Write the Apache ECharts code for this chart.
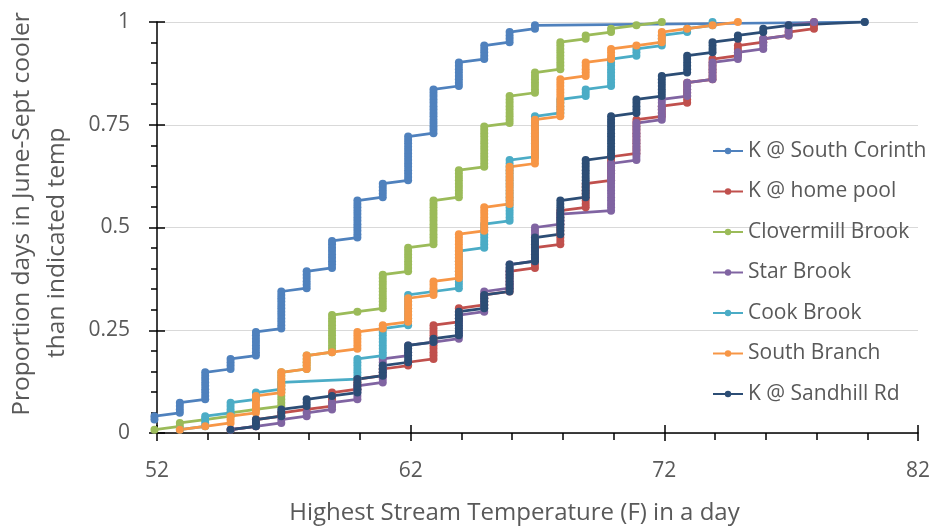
<!DOCTYPE html>
<html><head><meta charset="utf-8">
<script src="https://cdn.jsdelivr.net/npm/echarts@6/dist/echarts.min.js"></script>
<style>html,body{margin:0;padding:0;background:#fff}#c{width:934px;height:527px}</style>
</head><body><div id="c"></div>
<script>
// Highest daily temperature bins (F)
const temps = [51.9,52.9,53.9,54.9,55.9,56.9,57.9,58.9,59.9,60.9,61.9,62.9,63.9,64.9,65.9,66.9,67.9,68.9,69.9,70.9,71.9,72.9,73.9,74.9,75.9,76.9,77.9,78.9,79.9];
const seasonDays = 122; // June-Sept
const seriesNames = ['K @ South Corinth','K @ home pool','Clovermill Brook','Star Brook','Cook Brook','South Branch','K @ Sandhill Rd'];
const seriesColors = ['#4F81BD','#C0504D','#9BBB59','#8064A2','#4BACC6','#F79646','#2C4D75'];
// days cooler than the first bin (off the chart)
const daysBelowRange = [3,0,0,0,0,0,0];
// cumulative number of days at or below each temperature bin
const cumSouthCorinth = [5,9,18,22,30,42,48,57,69,74,88,102,110,115,119,121,121,121,121,121,121,121,121,121,121,121,121,121,122];
const cumHomePool     = [0,0,0,1,4,6,7,12,16,19,21,32,37,41,48,55,66,74,82,93,97,104,111,115,117,119,122,122,122];
const cumClovermill   = [1,3,4,6,7,18,23,35,36,47,55,69,78,91,100,107,116,118,120,121,122,122,122,122,122,122,122,122,122];
const cumStarBrook    = [0,0,0,1,2,4,6,9,14,22,26,27,35,42,50,61,65,65,80,92,99,104,110,113,117,121,122,122,122];
const cumCookBrook    = [0,1,5,9,12,15,15,15,22,31,41,42,54,62,81,94,99,102,111,114,118,120,122,122,122,122,122,122,122];
const cumSouthBranch  = [0,1,2,5,11,18,23,24,30,32,40,45,59,67,79,93,105,110,114,115,119,120,121,122,122,122,122,122,122];
const cumSandhill     = [0,0,0,1,4,7,10,11,16,20,26,28,36,41,50,58,69,81,94,99,106,112,116,118,120,121,121,121,122];
const cumTables = [cumSouthCorinth,cumHomePool,cumClovermill,cumStarBrook,cumCookBrook,cumSouthBranch,cumSandhill];

// one point per day: (temperature, rank / season days)
function dayPoints(cum, below) {
  const pts = [];
  let prev = below;
  for (let k = 0; k < temps.length; k++) {
    for (let d = prev + 1; d <= cum[k]; d++) pts.push([temps[k], d / seasonDays]);
    prev = Math.max(prev, cum[k]);
  }
  return pts;
}

const FONT = '"Open Sans"';
const TXT = '#595959';
const chart = echarts.init(document.getElementById('c'), null, {renderer:'canvas'});
const axisBase = {
  axisLine:{show:true, lineStyle:{color:'#000', width:1.5}},
  splitLine:{show:false}
};
chart.setOption({
  animation:false,
  backgroundColor:'#fff',
  textStyle:{fontFamily:FONT},
  grid:{left:157, right:16, top:22, bottom:94, outerBoundsMode:'none', containLabel:false},
  legend:{
    orient:'vertical', left:707, top:135, itemWidth:30, itemHeight:8, itemGap:18.5,
    textStyle:{fontFamily:FONT, fontSize:21, lineHeight:22, color:TXT},
    data:seriesNames
  },
  xAxis:[{
    ...axisBase, type:'value', min:52, max:82, interval:10,
    axisTick:{show:true, length:8, lineStyle:{color:'#000', width:1.5}},
    minorTick:{show:true, splitNumber:5, length:7, lineStyle:{color:'#000', width:1.5}},
    axisLabel:{fontFamily:FONT, fontSize:21, color:TXT, margin:28},
    name:'Highest Stream Temperature (F) in a day', nameLocation:'middle', nameGap:68,
    nameTextStyle:{fontFamily:FONT, fontSize:24, color:TXT, padding:[0,46,0,0]}
  },{
    type:'value', min:52, max:82, interval:10, position:'bottom',
    axisLine:{show:false}, axisLabel:{show:false}, splitLine:{show:false},
    axisTick:{show:true, inside:true, length:8, lineStyle:{color:'#000', width:1.5}}
  }],
  yAxis:[{
    ...axisBase, type:'value', min:0, max:1, interval:0.25,
    splitLine:{show:true, lineStyle:{color:'#D9D9D9', width:1.2}},
    axisTick:{show:true, length:8, lineStyle:{color:'#000', width:1.5}},
    minorTick:{show:true, splitNumber:5, length:6, lineStyle:{color:'#000', width:1.5}},
    axisLabel:{fontFamily:FONT, fontSize:21, color:TXT, margin:27},
    name:'Proportion days in June-Sept cooler\nthan indicated temp         ', nameLocation:'middle', nameGap:82, nameRotate:90,
    nameTextStyle:{fontFamily:FONT, fontSize:24.5, lineHeight:35, color:TXT, align:'center', padding:[0,0,0,27]}
  },{
    type:'value', min:0, max:1, interval:0.25, position:'left',
    axisLine:{show:false}, axisLabel:{show:false}, splitLine:{show:false},
    axisTick:{show:true, inside:true, length:8, lineStyle:{color:'#000', width:1.5}}
  }],
  series: seriesNames.map((name, i) => ({
    name, type:'line', xAxisIndex:0, yAxisIndex:0,
    data: dayPoints(cumTables[i], daysBelowRange[i]),
    symbol:'circle', symbolSize:8, showAllSymbol:true, clip:false,
    color: seriesColors[i],
    itemStyle:{color:seriesColors[i]},
    lineStyle:{color:seriesColors[i], width:2.75},
    emphasis:{disabled:true}
  }))
});
</script></body></html>
